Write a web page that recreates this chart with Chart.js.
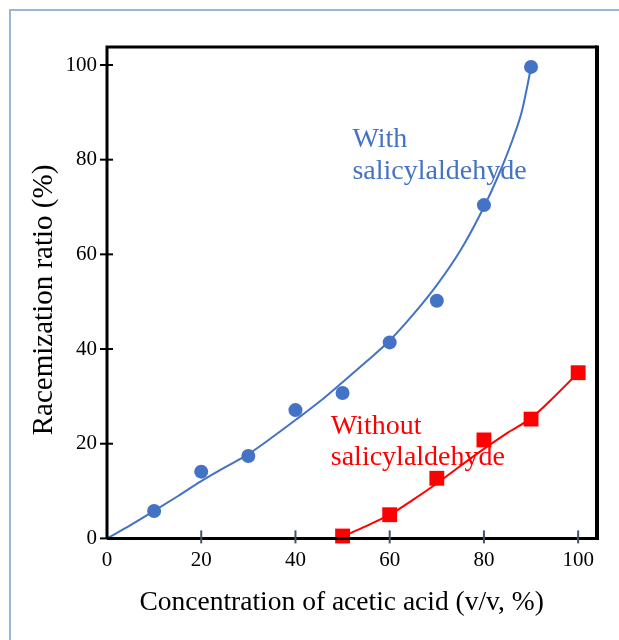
<!DOCTYPE html>
<html>
<head>
<meta charset="utf-8">
<script src="https://cdn.jsdelivr.net/npm/chart.js@4/dist/chart.umd.min.js"></script>
<style>
  body { margin: 0; background: #fff; }
  #wrap { position: relative; width: 619px; height: 640px; }
</style>
</head>
<body>
<div id="wrap"><canvas id="racemChart" width="619" height="640"></canvas></div>
<script>
// measured points
const xWith = [10, 20, 30, 40, 50, 60, 70, 80, 90];
const yWith = [5.8, 14.1, 17.4, 27.1, 30.7, 41.4, 50.2, 70.4, 99.6];
const xWithout = [50, 60, 70, 80, 90, 100];
const yWithout = [0.5, 5.0, 12.7, 20.8, 25.2, 35.0];

// fitted curves as drawn
const xCurveWith = [0, 5, 10, 15, 20, 25, 30, 35, 40, 45, 50, 55, 60, 65, 70, 75, 80, 83, 86, 88, 89, 90];
const yCurveWith = [0, 2.8, 5.8, 8.9, 12.1, 15, 17.8, 21.3, 25, 28.8, 33, 37.3, 41.8, 47.3, 53.5, 60.8, 70, 76.5, 84, 90, 94.5, 99.6];
const xCurveWithout = [50, 55, 60, 65, 70, 75, 80, 85, 90, 95, 100];
const yCurveWithout = [0.4, 2.6, 5.0, 8.2, 11.6, 15.3, 18.9, 22.3, 25.4, 30.0, 35.0];

const xTicks = [0, 20, 40, 60, 80, 100];
const yTicks = [0, 20, 40, 60, 80, 100];

// trailing spaces nudge the centred titles to where they sit in the figure
const xTitle = "Concentration of acetic acid (v/v, %)   ";
const yTitle = "Racemization ratio (%)  ";

const blue = "#4472C4";
const red = "#FF0000";
const serif = "'Liberation Serif', 'Times New Roman', serif";

function toXY(xs, ys){
  return xs.map(function(x, i){ return {x: x, y: ys[i]}; });
}

// frame, crossing tick marks and the two labels
const decoPlugin = {
  id: "deco",
  beforeDraw: function(chart){
    const ctx = chart.ctx;
    ctx.save();
    ctx.fillStyle = "#fff";
    ctx.fillRect(0, 0, chart.width, chart.height);
    ctx.strokeStyle = "#9fb4d2";
    ctx.lineWidth = 2;
    ctx.beginPath();
    ctx.moveTo(10, chart.height);
    ctx.lineTo(10, 10);
    ctx.lineTo(chart.width, 10);
    ctx.stroke();
    ctx.restore();
  },
  afterDatasetsDraw: function(chart){
    const ctx = chart.ctx;
    const a = chart.chartArea;
    const sx = chart.scales.x, sy = chart.scales.y;
    ctx.save();
    ctx.strokeStyle = "#000";
    ctx.lineWidth = 3;
    ctx.beginPath();
    ctx.moveTo(a.left, a.bottom); ctx.lineTo(a.left, a.top); ctx.lineTo(a.right, a.top);
    ctx.moveTo(a.left, a.bottom); ctx.lineTo(a.right, a.bottom);
    ctx.stroke();
    ctx.lineWidth = 4;
    ctx.beginPath();
    ctx.moveTo(a.right, a.top - 1.5); ctx.lineTo(a.right, a.bottom + 1.5);
    ctx.stroke();

    ctx.lineWidth = 2;
    ctx.strokeStyle = "#000";
    yTicks.forEach(function(v){
      const py = sy.getPixelForValue(v);
      ctx.beginPath(); ctx.moveTo(a.left - 7, py); ctx.lineTo(a.left + 6, py); ctx.stroke();
    });
    ctx.strokeStyle = "#44546A";
    xTicks.forEach(function(v){
      if (v === 0) return;
      const px = sx.getPixelForValue(v);
      ctx.beginPath(); ctx.moveTo(px, a.bottom - 8); ctx.lineTo(px, a.bottom + 5); ctx.stroke();
    });

    ctx.font = "28px " + serif;
    ctx.textAlign = "left";
    ctx.textBaseline = "alphabetic";
    ctx.fillStyle = blue;
    ctx.fillText("With", sx.getPixelForValue(52.1), sy.getPixelForValue(82.7));
    ctx.fillText("salicylaldehyde", sx.getPixelForValue(52.1), sy.getPixelForValue(76.0));
    ctx.fillStyle = red;
    ctx.fillText("Without", sx.getPixelForValue(47.5), sy.getPixelForValue(22.1));
    ctx.fillText("salicylaldehyde", sx.getPixelForValue(47.5), sy.getPixelForValue(15.6));
    ctx.restore();
  }
};

const chart = new Chart("racemChart", {
  type: "scatter",
  data: {
    datasets: [
      {
        label: "with curve",
        data: toXY(xCurveWith, yCurveWith),
        showLine: true,
        borderColor: blue,
        borderWidth: 2,
        pointRadius: 0,
        cubicInterpolationMode: "monotone"
      },
      {
        label: "without curve",
        data: toXY(xCurveWithout, yCurveWithout),
        showLine: true,
        borderColor: red,
        borderWidth: 2,
        pointRadius: 0,
        cubicInterpolationMode: "monotone"
      },
      {
        label: "With salicylaldehyde",
        data: toXY(xWith, yWith),
        pointStyle: "circle",
        pointRadius: 7,
        backgroundColor: blue,
        borderColor: blue,
        borderWidth: 0
      },
      {
        label: "Without salicylaldehyde",
        data: toXY(xWithout, yWithout),
        pointStyle: "rect",
        pointRadius: 10.5,
        backgroundColor: red,
        borderColor: red,
        borderWidth: 0
      }
    ]
  },
  options: {
    responsive: false,
    animation: false,
    clip: false,
    layout: { padding: { left: 23, top: 47, right: 22, bottom: 17 } },
    plugins: {
      legend: { display: false },
      tooltip: { enabled: false }
    },
    scales: {
      x: {
        type: "linear",
        min: 0,
        max: 104,
        afterBuildTicks: function(s){ s.ticks = xTicks.map(function(v){ return {value: v}; }); },
        afterFit: function(s){ s.height = 84.6; },
        grid: { drawOnChartArea: false, color: "transparent", tickLength: 6 },
        border: { display: false },
        ticks: { color: "#000", padding: 3, maxRotation: 0, font: { family: serif, size: 21 } },
        title: { display: true, text: xTitle, color: "#000", padding: 4, font: { family: serif, size: 27.5 } }
      },
      y: {
        type: "linear",
        min: 0,
        max: 103.8,
        afterBuildTicks: function(s){ s.ticks = yTicks.map(function(v){ return {value: v}; }); },
        afterFit: function(s){ s.width = 84; },
        grid: { drawOnChartArea: false, color: "transparent", tickLength: 6 },
        border: { display: false },
        ticks: { color: "#000", padding: 4, font: { family: serif, size: 21 } },
        title: { display: true, text: yTitle, color: "#000", padding: 4, font: { family: serif, size: 29 } }
      }
    }
  },
  plugins: [decoPlugin]
});
</script>
</body>
</html>
